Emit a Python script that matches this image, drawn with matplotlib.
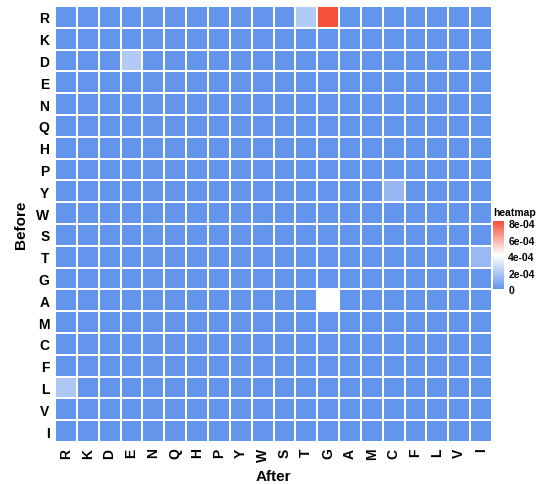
import numpy as np
import matplotlib
matplotlib.use("Agg")
import matplotlib.pyplot as plt
from matplotlib.colors import LinearSegmentedColormap, Normalize

plt.rcParams['font.family'] = ['Liberation Sans', 'DejaVu Sans']

# amino acids, same order on both axes
before = ['R', 'K', 'D', 'E', 'N', 'Q', 'H', 'P', 'Y', 'W',
          'S', 'T', 'G', 'A', 'M', 'C', 'F', 'L', 'V', 'I']
after = list(before)

# non-zero cells (before, after, value), everything else 0
nonzero_before = ['R', 'R', 'D', 'Y', 'T', 'A', 'L']
nonzero_after = ['T', 'G', 'E', 'C', 'I', 'G', 'R']
nonzero_value = [2.1e-4, 8.3e-4, 2.1e-4, 1.3e-4, 1.4e-4, 4.15e-4, 2.0e-4]

legend_ticks = [0, 2e-4, 4e-4, 6e-4, 8e-4]
legend_labels = ['0', '2e-04', '4e-04', '6e-04', '8e-04']

mat = np.zeros((len(before), len(after)))
for b, a, v in zip(nonzero_before, nonzero_after, nonzero_value):
    mat[before.index(b), after.index(a)] = v

cmap = LinearSegmentedColormap.from_list('gr2', ['#6495ED', '#FFFFFF', '#F4513A'])
norm = Normalize(vmin=0, vmax=max(nonzero_value))

fig = plt.figure(figsize=(5.45, 4.85), dpi=100)
ax = fig.add_axes([55/545, 42/485, 437/545, 436/485])
ax.pcolormesh(mat, cmap=cmap, norm=norm, edgecolors='white', linewidth=1.2)
ax.set_xlim(0, len(after))
ax.set_ylim(len(before), 0)
ax.set_xticks(np.arange(len(after)) + 0.5)
ax.set_xticklabels(after, rotation=90, fontsize=10, fontweight='bold')
ax.set_yticks(np.arange(len(before)) + 0.5)
ax.set_yticklabels(before, fontsize=10, fontweight='bold')
ax.tick_params(length=0, pad=4)
for s in ax.spines.values():
    s.set_visible(False)
ax.set_xlabel('After', fontsize=11, fontweight='bold', labelpad=6)
ax.set_ylabel('Before', fontsize=11, fontweight='bold', labelpad=6)

# colour bar legend
cax = fig.add_axes([493/545, (485-290)/485, 11/545, 68/485])
cb = fig.colorbar(matplotlib.cm.ScalarMappable(norm=norm, cmap=cmap), cax=cax)
cb.set_ticks(legend_ticks)
cb.set_ticklabels(legend_labels)
cb.outline.set_visible(False)
cax.tick_params(length=2, width=0.8, color='white', labelsize=7.5, pad=1)
for t in cax.get_yticklabels():
    t.set_fontweight('bold')
fig.text(493/545, (485-213)/485, 'heatmap', fontsize=7.5, fontweight='bold', va='center')

fig.savefig('out.png', dpi=100)
